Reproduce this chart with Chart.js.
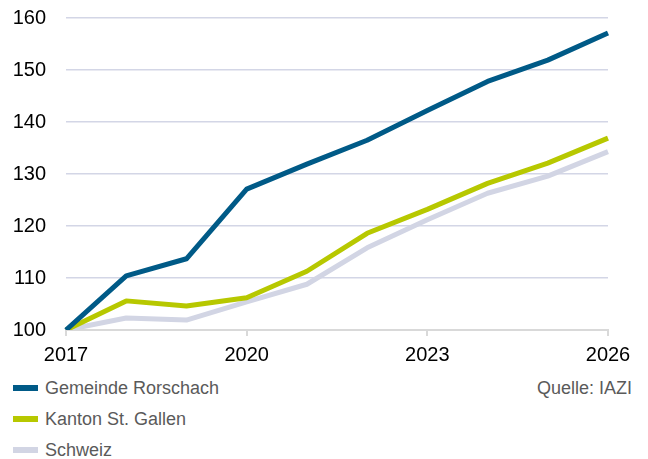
<!DOCTYPE html>
<html>
<head>
<meta charset="utf-8">
<script src="https://cdn.jsdelivr.net/npm/chart.js@4/dist/chart.umd.min.js"></script>
<style>
  html, body { margin: 0; padding: 0; background: #fff; }
  body { width: 648px; height: 459px; position: relative; overflow: hidden; font-family: "Liberation Sans", Arial, sans-serif; }
  #wrap { position: absolute; left: 0; top: 0; width: 648px; height: 372px; }
  .leg { position: absolute; left: 13px; font-size: 18px; color: #5a5a5a; height: 22px; line-height: 22px; }
  .leg span.sw { position: absolute; left: 0; top: 8px; width: 25px; height: 6px; }
  .leg span.tx { position: absolute; left: 32px; top: 0; white-space: nowrap; }
  #src { position: absolute; right: 16px; top: 377px; font-size: 18px; color: #5a5a5a; line-height: 22px; }
</style>
</head>
<body>
<div id="wrap"><canvas id="c"></canvas></div>
<div id="legend"></div>
<div id="src">Quelle: IAZI</div>
<script>
const years = ['2017','2018','2019','2020','2021','2022','2023','2024','2025','2026'];
const tickYears = ['2017','2020','2023','2026'];
const seriesNames = ['Gemeinde Rorschach','Kanton St. Gallen','Schweiz'];
const rorschach = [100, 110.4, 113.7, 127.1, 131.9, 136.5, 142.2, 147.8, 151.9, 157.1];
const kanton    = [100, 105.6, 104.6, 106.2, 111.3, 118.6, 123.2, 128.2, 132.1, 136.9];
const schweiz   = [100, 102.3, 101.9, 105.4, 108.8, 115.8, 121.2, 126.3, 129.6, 134.3];
const colors = ['#005a87', '#b7c800', '#d2d5e4'];

const values = [rorschach, kanton, schweiz];

const legend = document.getElementById('legend');
seriesNames.forEach((n, i) => {
  const d = document.createElement('div');
  d.className = 'leg';
  d.style.top = (377 + i * 31) + 'px';
  d.innerHTML = '<span class="sw" style="background:' + colors[i] + '"></span><span class="tx">' + n + '</span>';
  legend.appendChild(d);
});

new Chart(document.getElementById('c'), {
  type: 'line',
  data: {
    labels: years,
    datasets: seriesNames.map((n, i) => ({
      label: n,
      data: values[i],
      borderColor: colors[i],
      backgroundColor: colors[i],
      borderWidth: 5,
      pointRadius: 0,
      tension: 0,
      borderJoinStyle: 'round',
      fill: false
    }))
  },
  options: {
    responsive: true,
    maintainAspectRatio: false,
    animation: false,
    layout: { padding: { left: 0, right: 40, top: 18, bottom: 5 } },
    plugins: { legend: { display: false }, tooltip: { enabled: false } },
    scales: {
      x: {
        offset: false,
        afterFit: s => { s.paddingLeft = 0; s.paddingRight = 0; s.height = 37; },
        border: { display: true, color: '#d9d9d9', width: 2 },
        grid: {
          drawOnChartArea: false,
          drawTicks: true,
          tickLength: 6,
          lineWidth: 2,
          color: ctx => (tickYears.includes(years[ctx.index]) ? '#d9d9d9' : 'rgba(0,0,0,0)')
        },
        ticks: {
          autoSkip: false,
          maxRotation: 0,
          padding: 7,
          color: '#000',
          font: { family: '"Liberation Sans", Arial, sans-serif', size: 20 },
          callback: (v, i) => (tickYears.includes(years[i]) ? years[i] : '')
        }
      },
      y: {
        min: 100,
        max: 160,
        afterFit: s => { s.width = 66; s.paddingTop = 0; s.paddingBottom = 0; },
        border: { display: false },
        grid: {
          drawTicks: false,
          lineWidth: 1.5,
          color: ctx => (ctx.tick && ctx.tick.value === 100 ? 'rgba(0,0,0,0)' : '#d3d6e6')
        },
        ticks: {
          stepSize: 10,
          padding: 20,
          color: '#000',
          font: { family: '"Liberation Sans", Arial, sans-serif', size: 20 }
        }
      }
    }
  }
});
</script>
</body>
</html>
